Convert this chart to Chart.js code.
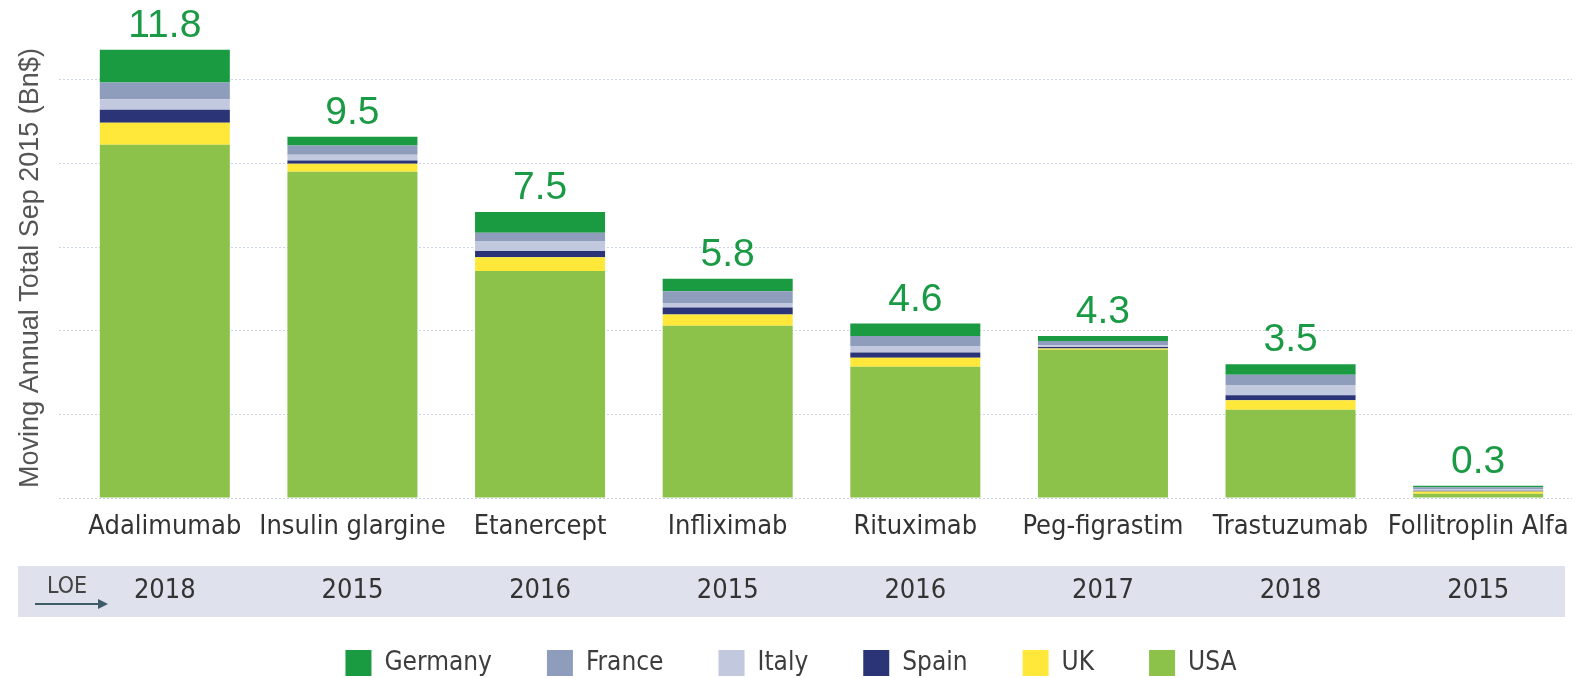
<!DOCTYPE html>
<html>
<head>
<meta charset="utf-8">
<script src="https://cdn.jsdelivr.net/npm/chart.js@4.4.0/dist/chart.umd.min.js"></script>
<style>
  html, body { margin: 0; padding: 0; background: #fff; }
  #wrap { width: 1594px; height: 678px; position: relative; }
</style>
</head>
<body>
<div id="wrap"><canvas id="chart"></canvas></div>
<script>
// categories + loss of exclusivity year
const drugs = ['Adalimumab', 'Insulin glargine', 'Etanercept', 'Infliximab', 'Rituximab', 'Peg-figrastim', 'Trastuzumab', 'Follitroplin Alfa']
const loeYears = ['2018', '2015', '2016', '2015', '2016', '2017', '2018', '2015']

// MAT Sep 2015, Bn$ per country
const usa     = [9.29, 8.58, 5.97, 4.53, 3.45, 3.90, 2.32, 0.11]
const uk      = [0.58, 0.21, 0.36, 0.30, 0.24, 0.03, 0.25, 0.06]
const spain   = [0.34, 0.09, 0.17, 0.18, 0.14, 0.04, 0.13, 0.02]
const italy   = [0.28, 0.15, 0.25, 0.12, 0.17, 0.05, 0.26, 0.04]
const france  = [0.44, 0.24, 0.23, 0.31, 0.26, 0.11, 0.28, 0.05]
const germany = [0.86, 0.23, 0.54, 0.33, 0.33, 0.13, 0.28, 0.04]

const gridTicks = [0, 2.2, 4.4, 6.6, 8.8, 11]

const labelFont = "'DejaVu Sans Condensed', 'Liberation Sans Narrow', sans-serif"
const gridColor = '#cdd3e6'

// green totals above each stack
const totalsPlugin = {
  id: 'totals',
  afterDatasetsDraw(chart) {
    const ctx = chart.ctx
    const meta = chart.getDatasetMeta(chart.data.datasets.length - 1)
    ctx.save()
    ctx.font = '39px "Liberation Sans", Arial, sans-serif'
    ctx.fillStyle = '#1b9a45'
    ctx.textAlign = 'center'
    ctx.textBaseline = 'alphabetic'
    meta.data.forEach((bar, i) => {
      const total = chart.data.datasets.reduce((s, ds) => s + ds.data[i], 0)
      ctx.fillText(total.toFixed(1), bar.x, bar.y - 13)
    })
    ctx.restore()
  }
}

// grey LOE band under the drug names: arrow, label and the years per category
const loePlugin = {
  id: 'loe',
  beforeDraw(chart) {
    const s = chart.scales.x
    const ctx = chart.ctx
    const top = s.top + 68
    ctx.save()
    ctx.fillStyle = '#dfe1ec'
    ctx.fillRect(18, top, s.right - 7 - 18, 51)

    ctx.fillStyle = '#444'
    ctx.font = '23px ' + labelFont
    ctx.textAlign = 'center'
    ctx.textBaseline = 'middle'
    ctx.fillText('LOE', 67, top + 21)

    ctx.strokeStyle = '#3e5b68'
    ctx.fillStyle = '#3e5b68'
    ctx.lineWidth = 2
    ctx.beginPath()
    ctx.moveTo(35, top + 38)
    ctx.lineTo(100, top + 38)
    ctx.stroke()
    ctx.beginPath()
    ctx.moveTo(108, top + 38)
    ctx.lineTo(98, top + 33)
    ctx.lineTo(98, top + 43)
    ctx.closePath()
    ctx.fill()

    ctx.fillStyle = '#333'
    ctx.font = '27px ' + labelFont
    loeYears.forEach((yr, i) => {
      ctx.fillText(yr, s.getPixelForValue(i), top + 25)
    })
    ctx.restore()
  }
}

const ctx = document.getElementById('chart').getContext('2d')

new Chart(ctx, {
  type: 'bar',
  data: {
    labels: drugs,
    datasets: [
      { label: 'USA', data: usa, backgroundColor: '#8cc24a' },
      { label: 'UK', data: uk, backgroundColor: '#ffe83a' },
      { label: 'Spain', data: spain, backgroundColor: '#2b3477' },
      { label: 'Italy', data: italy, backgroundColor: '#c2c8de' },
      { label: 'France', data: france, backgroundColor: '#8e9dbb' },
      { label: 'Germany', data: germany, backgroundColor: '#1a9a41' }
    ]
  },
  options: {
    responsive: true,
    maintainAspectRatio: false,
    animation: false,
    barPercentage: 0.693,
    categoryPercentage: 1.0,
    layout: { padding: { left: 10, right: 22, top: 38, bottom: 0 } },
    plugins: {
      legend: {
        position: 'bottom',
        reverse: true,
        maxHeight: 83,
        labels: {
          boxWidth: 26,
          boxHeight: 26,
          padding: 55,
          color: '#3d3d3d',
          font: { family: labelFont, size: 26 }
        }
      },
      tooltip: { enabled: false }
    },
    scales: {
      x: {
        stacked: true,
        grid: { display: false, drawTicks: false },
        border: { display: false },
        ticks: {
          color: '#333',
          font: { family: labelFont, size: 27 },
          padding: 13,
          maxRotation: 0,
          minRotation: 0,
          autoSkip: false
        },
        afterFit(scale) { scale.height = 97 }
      },
      y: {
        stacked: true,
        min: 0,
        max: 12.1,
        border: { display: false, dash: [2, 2] },
        grid: {
          color: gridColor,
          tickColor: gridColor,
          tickBorderDash: [2, 2],
          tickLength: 12,
          drawTicks: true
        },
        ticks: { display: false },
        afterBuildTicks(scale) {
          scale.ticks = gridTicks.map(v => ({ value: v }))
        },
        title: {
          display: true,
          text: 'Moving Annual Total Sep 2015 (Bn$)',
          color: '#555',
          font: { family: "'Liberation Sans', Arial, sans-serif", size: 27 },
          padding: { top: 4.8, bottom: 11.8 }
        }
      }
    }
  },
  plugins: [totalsPlugin, loePlugin]
})
</script>
</body>
</html>
